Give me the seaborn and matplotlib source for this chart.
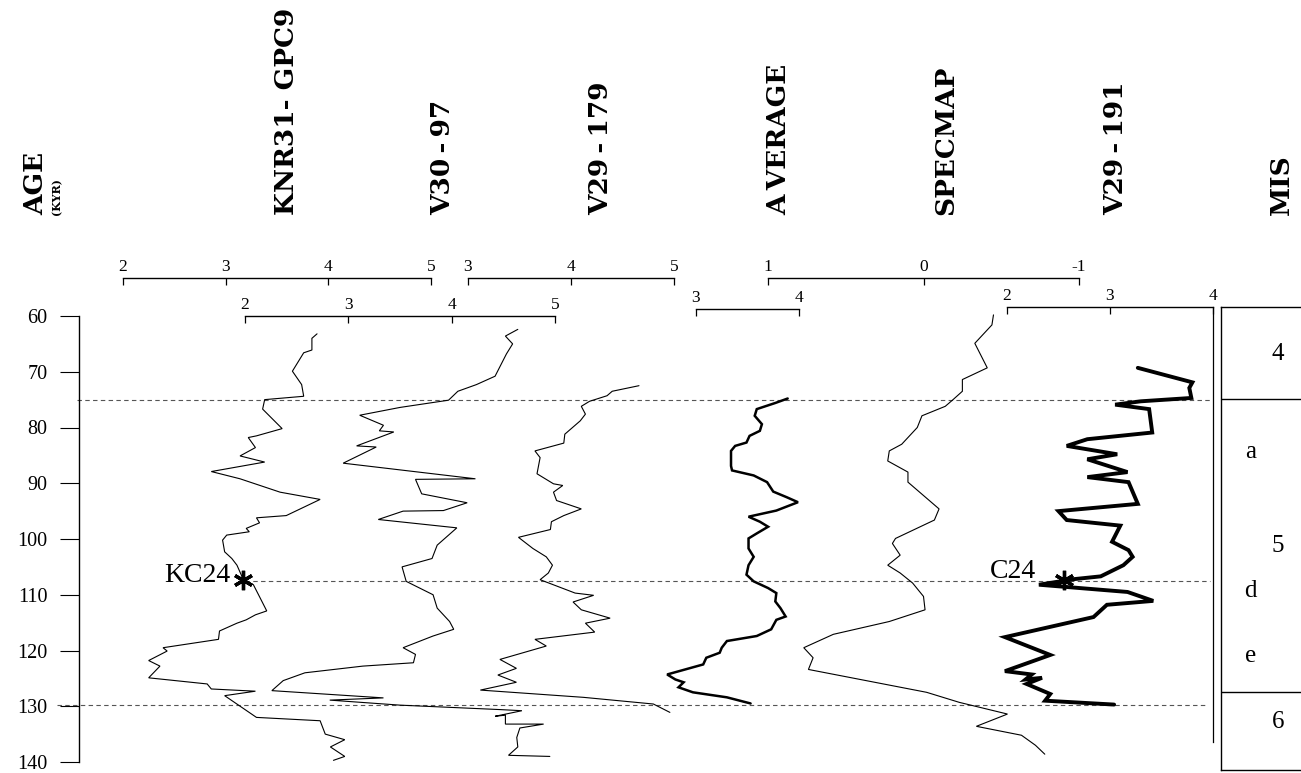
import matplotlib.pyplot as plt
import seaborn as sns

# oxygen isotope records vs age (kyr)
knr_age = [63.2, 64.0, 66.1, 66.6, 69.9, 72.3, 74.4, 75.0, 76.7, 80.2, 81.5, 81.8, 83.6, 85.1,
           86.2, 87.9, 89.2, 91.6, 92.9, 95.8, 96.2, 97.1, 98.1, 98.7, 99.3, 100.2, 102.3, 103.5,
           104.7, 107.2, 108.2, 110.0, 112.9, 113.6, 114.5, 115.1, 116.5, 118.0, 119.5, 120.1,
           121.8, 122.8, 124.9, 126.0, 126.9, 127.3, 128.1, 132.0, 132.6, 135.0, 136.0, 137.3,
           139.0, 139.7]
knr_d18o = [3.89, 3.84, 3.84, 3.76, 3.65, 3.74, 3.76, 3.38, 3.36, 3.55, 3.30, 3.22, 3.29, 3.14,
            3.38, 2.86, 3.14, 3.53, 3.92, 3.59, 3.30, 3.33, 3.20, 3.23, 3.01, 2.97, 2.99, 3.06,
            3.11, 3.17, 3.27, 3.32, 3.40, 3.29, 3.20, 3.11, 2.94, 2.93, 2.39, 2.43,
            2.25, 2.36, 2.25, 2.82, 2.86, 3.29, 2.99, 3.30, 3.92, 3.97, 4.16, 4.02,
            4.16, 4.05]

v3097_age = [62.4, 63.6, 65.0, 66.8, 70.8, 72.3, 73.5, 75.1, 76.4, 77.8, 79.6, 80.6, 80.8, 83.3,
             83.5, 86.4, 89.2, 89.3, 91.9, 93.5, 94.9, 95.0, 96.5, 98.0, 101.1, 103.5, 105.0,
             107.6, 110.0, 112.4, 114.8, 116.2, 117.4, 119.5, 120.7, 122.2, 122.8, 124.0, 125.4,
             127.2, 128.5, 128.9, 129.8, 130.6, 130.8, 131.8, 131.6, 133.2, 133.2, 133.9, 135.6,
             137.3, 138.8, 139.0]
v3097_d18o = [4.64, 4.52, 4.59, 4.53, 4.42, 4.24, 4.06, 3.97, 3.50, 3.11, 3.34, 3.30, 3.44, 3.08,
              3.27, 2.95, 4.23, 3.65, 3.71, 4.15, 3.92, 3.53, 3.29, 4.05, 3.86, 3.81, 3.52,
              3.56, 3.82, 3.86, 3.98, 4.02, 3.82, 3.53, 3.65, 3.63, 3.14, 2.58, 2.37,
              2.26, 3.34, 2.82, 3.50, 4.47, 4.68, 4.42, 4.52, 4.52, 4.89, 4.66, 4.63,
              4.64, 4.55, 4.95]

v29179_age = [72.5, 73.5, 74.3, 75.3, 76.2, 77.6, 78.8, 81.2, 82.8, 84.2, 85.4, 88.3, 90.1, 90.4,
              91.6, 93.1, 94.6, 95.8, 96.9, 98.3, 99.7, 101.7, 103.2, 104.7, 106.1, 107.3, 109.7,
              110.1, 111.3, 112.7, 114.2, 115.1, 116.7, 118.0, 119.2, 121.6, 123.2, 124.4, 125.7,
              127.1, 128.4, 129.6, 131.1]
v29179_d18o = [4.66, 4.40, 4.35, 4.18, 4.10, 4.14, 4.09, 3.94, 3.93, 3.65, 3.70, 3.67, 3.83, 3.92,
               3.83, 3.86, 4.10, 3.93, 3.81, 3.80, 3.49, 3.63, 3.76, 3.82, 3.78, 3.70, 4.04,
               4.22, 4.02, 4.10, 4.38, 4.14, 4.23, 3.65, 3.76, 3.31, 3.47, 3.29, 3.47,
               3.12, 4.12, 4.80, 4.96]

avg_age = [74.8, 75.6, 76.7, 77.9, 79.4, 80.6, 81.5, 82.7, 83.3, 84.2, 86.9, 87.7, 88.6, 89.8,
           91.5, 92.5, 93.4, 94.9, 96.0, 96.9, 97.8, 99.0, 99.9, 101.7, 103.2, 104.7, 106.4,
           107.6, 108.8, 109.7, 111.2, 112.4, 113.9, 114.5, 116.2, 117.4, 118.3, 119.5, 120.4,
           121.3, 122.5, 124.3, 125.2, 125.7, 126.6, 127.5, 128.4, 129.5]
avg_d18o = [3.89, 3.77, 3.59, 3.57, 3.64, 3.62, 3.52, 3.49, 3.38, 3.34, 3.34, 3.35, 3.56, 3.69,
            3.75, 3.88, 3.99, 3.78, 3.51, 3.62, 3.70, 3.59, 3.51, 3.51, 3.56, 3.51, 3.49,
            3.56, 3.70, 3.78, 3.77, 3.82, 3.87, 3.78, 3.73, 3.59, 3.30, 3.25, 3.23,
            3.10, 3.07, 2.72, 2.80, 2.88, 2.83, 2.97, 3.30, 3.53]

specmap_age = [59.8, 61.6, 64.9, 69.3, 71.4, 73.5, 75.0, 76.2, 77.9, 80.0, 81.8, 83.0, 84.2, 86.0,
               88.0, 89.8, 94.6, 96.6, 99.9, 100.8, 102.9, 104.7, 106.1, 107.9, 110.3, 112.7,
               114.8, 117.1, 119.5, 121.3, 123.4, 127.5, 129.3, 131.4, 133.6, 135.2, 137.0, 138.6]
specmap_d18o = [-0.45, -0.44, -0.33, -0.41, -0.25, -0.25, -0.19, -0.14, 0.01, 0.04, 0.10, 0.14,
                0.22, 0.23, 0.10, 0.10, -0.10, -0.07, 0.18, 0.20, 0.15, 0.23, 0.15, 0.07, 0.00,
                -0.01, 0.22, 0.58, 0.77, 0.71, 0.74, -0.02, -0.23, -0.54, -0.34, -0.63, -0.72,
                -0.78]

v29191_age = [69.3, 71.9, 72.9, 74.7, 75.3, 75.9, 76.7, 80.9, 82.1, 83.3, 84.8, 85.7, 88.0, 88.9,
              89.8, 93.7, 95.0, 96.6, 97.6, 100.5, 102.0, 103.2, 104.7, 106.7, 107.2, 108.2,
              109.5, 111.1, 111.8, 114.0, 117.6, 120.8, 123.7, 124.3, 125.2, 124.9, 126.0, 127.8,
              129.0, 129.7]
v29191_d18o = [3.27, 3.80, 3.77, 3.79, 3.30, 3.05, 3.38, 3.41, 2.78, 2.58, 3.07, 2.78, 3.17, 2.78,
               3.18, 3.27, 2.50, 2.58, 3.10, 3.02, 3.18, 3.22, 3.13, 2.91, 2.65, 2.31,
               3.17, 3.42, 2.97, 2.84, 1.98, 2.42, 1.98, 2.24, 2.18, 2.34, 2.19, 2.42,
               2.37, 3.04]

# scale ticks for each record
knr_ticks = [2, 3, 4, 5]
v3097_ticks = [2, 3, 4, 5]
v29179_ticks = [3, 4, 5]
avg_ticks = [3, 4]
specmap_ticks = [1, 0, -1]
v29191_ticks = [2, 3, 4]

age_ticks = [60, 70, 80, 90, 100, 110, 120, 130, 140]
boundary_ages = [75.1, 107.6, 129.7]   # dashed correlation lines
tie_points = {'KC24': (3.17, 107.3), 'C24': (2.55, 107.3)}

mis_bounds = [74.8, 127.5]
mis_labels = ['4', 'a', '5', 'd', 'e', '6']
mis_label_ages = [66.9, 84.4, 101.3, 109.4, 120.9, 132.9]

titles = ['KNR31- GPC9', 'V30\u2009-\u200997', 'V29\u2009-\u2009179', 'A\u2009VERAGE',
          'SPECMAP', 'V29\u2009-\u2009191', 'MIS']

W, H = 1301, 773
Y60, Y140 = 316, 762
PX_PER_KYR = (Y140 - Y60) / 80.0


def px_to_age(py):
    return 60 + (py - Y60) / PX_PER_KYR


def px_axes(fig, x0, x1, y0, y1):
    return fig.add_axes([x0 / W, 1 - y1 / H, (x1 - x0) / W, (y1 - y0) / H])


sns.set_theme(style='white')
plt.rcParams['font.family'] = ['Liberation Serif', 'DejaVu Serif']
plt.rcParams['axes.unicode_minus'] = False

fig = plt.figure(figsize=(W / 100, H / 100), dpi=100)
fig.patch.set_facecolor('white')

# age axis
ax0 = px_axes(fig, 79, 1213, Y60, Y140)
ax0.set_facecolor('none')
ax0.set_ylim(140, 60)
ax0.set_xlim(0, 1)
ax0.set_yticks(age_ticks)
ax0.set_xticks([])
for s in ['top', 'right', 'bottom']:
    ax0.spines[s].set_visible(False)
ax0.spines['left'].set_linewidth(1.0)
ax0.spines['left'].set_color('black')
ax0.tick_params(axis='y', direction='out', length=13.5, width=0.8, pad=9,
                labelsize=14.5, colors='black', left=True)

dash_extent = [(-0.002, 0.997), (0.146, 0.997), (-0.019, 0.993)]
for a, (x_lo, x_hi) in zip(boundary_ages, dash_extent):
    ax0.axhline(a, x_lo, x_hi, color='#555555', lw=0.8, dashes=(4, 3), clip_on=False)

records = [
    (knr_age, knr_d18o, knr_ticks, 123, 431, 278, 0.8),
    (v3097_age, v3097_d18o, v3097_ticks, 245, 555, 316, 0.8),
    (v29179_age, v29179_d18o, v29179_ticks, 468, 674, 278, 0.8),
    (avg_age, avg_d18o, avg_ticks, 696, 799, 309, 1.8),
    (specmap_age, specmap_d18o, specmap_ticks, 768, 1079, 278, 0.8),
    (v29191_age, v29191_d18o, v29191_ticks, 1007, 1213, 307, 2.8),
]

rec_axes = []
for age, vals, ticks, x0, x1, ybr, lw in records:
    ax = px_axes(fig, x0, x1, ybr, Y140)
    ax.set_facecolor('none')
    sns.lineplot(x=vals, y=age, sort=False, estimator=None, color='black',
                 linewidth=lw, ax=ax)
    for ln in ax.lines:
        ln.set_clip_on(False)
        ln.set_solid_joinstyle('miter')
    ax.set_xlim(ticks[0], ticks[-1])
    ax.set_ylim(140, px_to_age(ybr))
    ax.set_xticks(ticks)
    ax.set_xticklabels([str(t) for t in ticks])
    ax.set_yticks([])
    ax.set_xlabel('')
    ax.set_ylabel('')
    for s in ['left', 'right', 'bottom']:
        ax.spines[s].set_visible(False)
    ax.spines['top'].set_linewidth(1.0)
    ax.spines['top'].set_color('black')
    ax.xaxis.tick_top()
    ax.tick_params(axis='x', direction='in', length=5, width=0.9, pad=2,
                   labelsize=12.5, colors='black', top=True, bottom=False)
    rec_axes.append(ax)

# right frame line at the end of the V29-191 scale
ax_r = rec_axes[-1]
ax_r.spines['right'].set_visible(True)
ax_r.spines['right'].set_color('black')
ax_r.spines['right'].set_linewidth(0.9)
ax_r.spines['right'].set_bounds(136.4, px_to_age(307))

# tie points
ax_k = rec_axes[0]
kx, ky = tie_points['KC24']
ax_k.plot([kx], [ky], marker=(6, 2, 0), ms=14, mew=2.4, color='black', clip_on=False)
ax_k.text(kx - 0.12, ky - 0.7, 'KC24', ha='right', va='center', fontsize=20, color='black')
cx, cy = tie_points['C24']
ax_r.plot([cx], [cy], marker=(6, 2, 0), ms=14, mew=2.4, color='black', clip_on=False)
ax_r.text(cx - 0.27, cy - 1.4, 'C24', ha='right', va='center', fontsize=20, color='black')

# marine isotope stage column
ax_m = px_axes(fig, 1221, 1345, 307, 770)
ax_m.set_facecolor('none')
ax_m.set_ylim(px_to_age(770), px_to_age(307))
ax_m.set_xlim(0, 1)
ax_m.set_xticks([])
ax_m.set_yticks([])
ax_m.spines['right'].set_visible(False)
for s in ['left', 'top', 'bottom']:
    ax_m.spines[s].set_color('black')
    ax_m.spines[s].set_linewidth(1.0)
for b in mis_bounds:
    ax_m.axhline(b, color='black', lw=1.0)
for lab, a in zip(mis_labels, mis_label_ages):
    xpos = 0.46 if lab.isdigit() else 0.235
    ax_m.text(xpos, a, lab, ha='center', va='center', fontsize=18, color='black')

# column headings
title_x = [286, 443, 601, 779, 946, 1116, 1281]
for t, x in zip(titles, title_x):
    fig.text(x / W, 1 - 215 / H, t, rotation=90, ha='center', va='bottom',
             fontsize=19, fontweight='bold', family=['DejaVu Serif'], color='black')
fig.text(36 / W, 1 - 215 / H, 'AGE', rotation=90, ha='center', va='bottom',
         fontsize=19, fontweight='bold', family=['DejaVu Serif'], color='black')
fig.text(57 / W, 1 - 215 / H, '(KYR)', rotation=90, ha='center', va='bottom',
         fontsize=8, fontweight='bold', family=['DejaVu Serif'], color='black')

fig.savefig('out.png', dpi=100, facecolor='white')
plt.close(fig)
